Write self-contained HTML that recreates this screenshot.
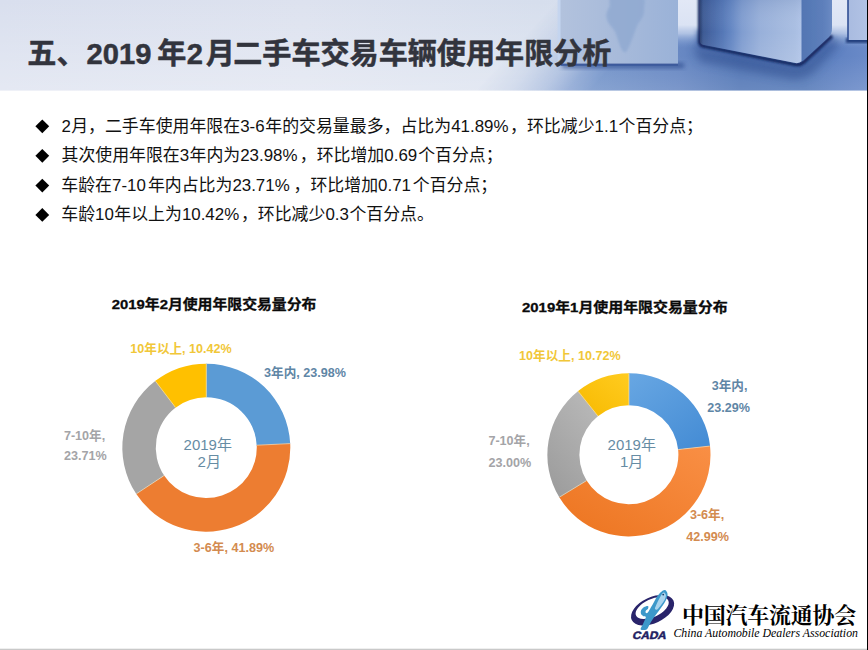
<!DOCTYPE html>
<html lang="zh"><head><meta charset="utf-8"><title>2019年2月二手车交易车辆使用年限分析</title>
<style>
html,body{margin:0;padding:0;background:#fff;}
body{width:868px;height:650px;overflow:hidden;position:relative;font-family:"Liberation Sans",sans-serif;}
#art{position:absolute;left:0;top:0;display:block;}
.t{position:absolute;white-space:nowrap;color:transparent;line-height:1;font-family:"Liberation Sans",sans-serif;}
#page{position:relative;width:868px;height:650px;overflow:hidden;background:#fff;}
</style></head><body>
<div id="page">
<svg id="art" width="868" height="650" viewBox="0 0 868 650">

<defs>
<linearGradient id="hb" x1="0" x2="868" gradientUnits="userSpaceOnUse"><stop offset="0" stop-color="#d9dfee"/><stop offset=".35" stop-color="#dde2ef"/><stop offset=".62" stop-color="#d6deed"/><stop offset="1" stop-color="#dfe8f7"/></linearGradient>
<linearGradient id="hv" x1="0" y1="0" x2="0" y2="90" gradientUnits="userSpaceOnUse"><stop offset="0" stop-color="#fff" stop-opacity="0"/><stop offset="1" stop-color="#fff" stop-opacity=".3"/></linearGradient>
<linearGradient id="flc" x1="520" x2="868" gradientUnits="userSpaceOnUse"><stop offset="0" stop-color="#8ea7d4"/><stop offset=".115" stop-color="#84a0d1"/><stop offset=".23" stop-color="#7595ca"/><stop offset=".46" stop-color="#6888c3"/><stop offset=".63" stop-color="#5377b6"/><stop offset=".82" stop-color="#5378b7"/><stop offset=".92" stop-color="#6183c3"/><stop offset="1" stop-color="#6a8ac8"/></linearGradient>
<linearGradient id="flv" x1="0" y1="56" x2="0" y2="91" gradientUnits="userSpaceOnUse"><stop offset="0" stop-color="#fff" stop-opacity="0"/><stop offset="1" stop-color="#fff" stop-opacity=".13"/></linearGradient>
<linearGradient id="flm" x1="508" y1="54.5" x2="570.9" y2="111.5" gradientUnits="userSpaceOnUse"><stop offset="0" stop-color="#fff" stop-opacity="0"/><stop offset=".3" stop-color="#fff" stop-opacity=".2"/><stop offset=".59" stop-color="#fff" stop-opacity=".52"/><stop offset=".8" stop-color="#fff" stop-opacity=".85"/><stop offset="1" stop-color="#fff" stop-opacity="1"/></linearGradient>
<linearGradient id="flr" x1="655" x2="700" gradientUnits="userSpaceOnUse"><stop offset="0" stop-color="#fff" stop-opacity="0"/><stop offset="1" stop-color="#fff" stop-opacity="1"/></linearGradient>
<mask id="fm" maskUnits="userSpaceOnUse" x="400" y="0" width="468" height="92"><rect x="400" y="0" width="468" height="92" fill="url(#flm)"/><rect x="655" y="0" width="213" height="92" fill="url(#flr)"/></mask>
<linearGradient id="c1" x1="561" x2="678" gradientUnits="userSpaceOnUse"><stop offset="0" stop-color="#b2c2dd"/><stop offset=".5" stop-color="#a7bada"/><stop offset="1" stop-color="#9ab2d8"/></linearGradient>
<linearGradient id="c2a" x1="700" x2="802" gradientUnits="userSpaceOnUse"><stop offset="0" stop-color="#2a4070"/><stop offset=".03" stop-color="#3d5a94"/><stop offset=".12" stop-color="#4868a6"/><stop offset=".22" stop-color="#5577b6"/><stop offset=".31" stop-color="#6688c4"/><stop offset=".41" stop-color="#809dd0"/><stop offset=".59" stop-color="#98b0da"/><stop offset=".78" stop-color="#a2b8de"/><stop offset=".93" stop-color="#a9bee2"/><stop offset="1" stop-color="#b0c4e8"/></linearGradient>
<linearGradient id="c2v" x1="0" y1="0" x2="0" y2="64" gradientUnits="userSpaceOnUse"><stop offset="0" stop-color="#35528c" stop-opacity=".12"/><stop offset=".5" stop-color="#fff" stop-opacity="0"/><stop offset="1" stop-color="#fff" stop-opacity=".1"/></linearGradient>
<linearGradient id="c2b" x1="802" x2="832" gradientUnits="userSpaceOnUse"><stop offset="0" stop-color="#5376b3"/><stop offset=".7" stop-color="#5d7fbb"/><stop offset="1" stop-color="#6a8ac3"/></linearGradient>
<linearGradient id="gap" x1="0" y1="0" x2="0" y2="48" gradientUnits="userSpaceOnUse"><stop offset="0" stop-color="#e2e8f6"/><stop offset=".52" stop-color="#dbe3f4"/><stop offset=".7" stop-color="#b7c8e7" stop-opacity=".9"/><stop offset=".87" stop-color="#8aa5d5" stop-opacity=".5"/><stop offset="1" stop-color="#7694cc" stop-opacity="0"/></linearGradient>
<linearGradient id="c3" x1="848" x2="868" gradientUnits="userSpaceOnUse"><stop offset="0" stop-color="#a9bbe0"/><stop offset="1" stop-color="#b2c3e5"/></linearGradient>
<filter id="b1" x="-20%" y="-20%" width="140%" height="140%"><feGaussianBlur stdDeviation="1"/></filter>
<filter id="b2" x="-20%" y="-50%" width="140%" height="200%"><feGaussianBlur stdDeviation="2.2"/></filter>
<filter id="b4" x="-20%" y="-50%" width="140%" height="200%"><feGaussianBlur stdDeviation="4"/></filter>
<filter id="b05" x="-5%" y="-5%" width="110%" height="110%"><feGaussianBlur stdDeviation=".6"/></filter>
<clipPath id="hc"><rect x="0" y="0" width="868" height="90.4"/></clipPath>
</defs>
<g clip-path="url(#hc)">
<rect width="868" height="91" fill="url(#hb)"/>
<rect width="868" height="91" fill="url(#hv)"/>
<g mask="url(#fm)"><rect x="400" y="0" width="468" height="92" fill="url(#flc)"/><rect x="400" y="56" width="468" height="36" fill="url(#flv)"/></g>
<rect x="672" y="0" width="196" height="48" fill="url(#gap)"/>
<!-- cube1 shadow + body -->
<rect x="562" y="63" width="122" height="5" fill="#2e4c8e" filter="url(#b2)" opacity=".7"/>
<rect x="560" y="-2" width="118" height="67" fill="url(#c1)" filter="url(#b05)"/>
<path d="M612.6 -4.1C617.9 -5.9 636.4 -6.2 641.6 -4.1C646.9 -2.1 643.9 4.8 644.1 8.3C644.3 11.8 643.8 13.8 642.7 16.6C641.5 19.4 638.9 22.1 637.5 24.9C636.1 27.7 635.4 30.4 634.4 33.2C633.3 35.9 632.6 38.4 631.2 41.5C629.9 44.6 627.6 50.5 626.1 51.8C624.5 53.2 623.3 51.8 621.9 49.8C620.5 47.7 619 42.5 617.8 39.4C616.6 36.3 616.2 33.9 614.7 31.1C613.1 28.3 609.8 25.6 608.4 22.8C607.1 20 606.2 17.3 606.4 14.5C606.5 11.8 608.4 9.3 609.5 6.2C610.5 3.1 607.2 -2.4 612.6 -4.1Z" fill="#8ea8d0" opacity=".75" filter="url(#b1)"/>
<rect x="557.6" y="0" width="3" height="64" fill="#c4d5f0" opacity=".9" filter="url(#b05)"/>
<rect x="561" y="63.6" width="117" height="2.2" fill="#3c5a9c" filter="url(#b05)"/>
<!-- cube2 -->
<path d="M698 40 L700 47 L796 66 L806 63 L834 36 L840 44 L812 74 L796 80 L700 62 L694 50 Z" fill="#2d4c8c" opacity=".5" filter="url(#b4)"/>
<path d="M699.5 30 L699.5 42 Q700 45.5 704 46.3 L794 64.3 Q800 65.5 804 62 L832 36" fill="none" stroke="#3a5a9c" stroke-width="7" filter="url(#b2)" opacity=".55"/>
<path d="M699.5 -3 L699.5 42 Q700 45.5 704 46.3 L794 64.3 Q800 65.5 804 62 L832 36" fill="none" stroke="#13285f" stroke-width="3.2" filter="url(#b1)"/>
<path d="M700 -2 L700 41 Q700 44 703 44.8 L794 62.8 Q799 64 802 61 L802 -2 Z" fill="url(#c2a)" filter="url(#b05)"/>
<path d="M700 -2 L700 41 Q700 44 703 44.8 L794 62.8 Q799 64 802 61 L802 -2 Z" fill="url(#c2v)"/>
<path d="M801.5 -2 L801.5 61.5 Q803 61 805 59 L829 37 Q832 34 832 28 L832 -2 Z" fill="url(#c2b)" filter="url(#b05)"/>
<!-- cube3 -->
<rect x="846" y="38" width="24" height="5" fill="#23407f" filter="url(#b1)"/>
<rect x="848" y="-2" width="22" height="42" fill="url(#c3)"/>
<rect x="847.2" y="-2" width="1.6" height="42" fill="#2f4f94" filter="url(#b05)"/>
</g>

<text y="64.4" font-family="'Liberation Sans','Noto Sans CJK SC',sans-serif" font-size="29.1" font-weight="bold" fill="#32343d" stroke="#32343d" stroke-width="0.5" stroke-linejoin="round"><tspan x="27.3">五、</tspan><tspan x="86.6">2019</tspan><tspan x="157.2">年</tspan><tspan x="186.8">2</tspan><tspan x="205.7">月</tspan><tspan x="233.2">二手车交易车辆使用年限分析</tspan></text>
<text y="131.8" font-family="'Liberation Sans','Noto Sans CJK SC',sans-serif" font-size="16.9" fill="#111"><tspan x="61.6">2</tspan><tspan x="71.2">月，二手车使用年限在</tspan><tspan x="240.2">3-6</tspan><tspan x="265.3">年的交易量最多，占比为</tspan><tspan x="451.2">41.89%</tspan><tspan x="510.1">，环比减少</tspan><tspan x="594.6">1.1</tspan><tspan x="618.5">个百分点；</tspan></text>
<path d="M42.3 119.4 l6.9 6.9 l-6.9 6.9 l-6.9 -6.9 Z" fill="#000"/>
<text y="161.3" font-family="'Liberation Sans','Noto Sans CJK SC',sans-serif" font-size="16.9" fill="#111"><tspan x="61.5">其次使用年限在</tspan><tspan x="179.8">3</tspan><tspan x="189.5">年内为</tspan><tspan x="240.2">23.98%</tspan><tspan x="299.8">，环比增加</tspan><tspan x="384.3">0.69</tspan><tspan x="418.2">个百分点；</tspan></text>
<path d="M42.3 148.9 l6.9 6.9 l-6.9 6.9 l-6.9 -6.9 Z" fill="#000"/>
<text y="191.1" font-family="'Liberation Sans','Noto Sans CJK SC',sans-serif" font-size="16.9" fill="#111"><tspan x="61.3">车龄在</tspan><tspan x="112">7-10</tspan><tspan x="147.9">年内占比为</tspan><tspan x="232.4">23.71%</tspan><tspan x="293.6">，环比增加</tspan><tspan x="378.1">0.71</tspan><tspan x="412.8">个百分点；</tspan></text>
<path d="M42.3 178.7 l6.9 6.9 l-6.9 6.9 l-6.9 -6.9 Z" fill="#000"/>
<text y="220.4" font-family="'Liberation Sans','Noto Sans CJK SC',sans-serif" font-size="16.9" fill="#111"><tspan x="61.3">车龄</tspan><tspan x="95.1">10</tspan><tspan x="114.3">年以上为</tspan><tspan x="181.9">10.42%</tspan><tspan x="240.9">，环比减少</tspan><tspan x="325.4">0.3</tspan><tspan x="349.4">个百分点。</tspan></text>
<path d="M42.3 208 l6.9 6.9 l-6.9 6.9 l-6.9 -6.9 Z" fill="#000"/>
<path d="M206.1 363.7 A84 84 0 0 1 290.2 443.8 L256.7 445.4 A50.5 50.5 0 0 0 206.2 397.2 Z" fill="#5b9bd5"/><path d="M290.2 443.4 A84 84 0 0 1 136.1 493.8 L164.1 475.4 A50.5 50.5 0 0 0 256.7 445.1 Z" fill="#ed7d31"/><path d="M136.3 494.1 A84 84 0 0 1 155.5 380.8 L175.7 407.5 A50.5 50.5 0 0 0 164.2 475.6 Z" fill="#a5a5a5"/><path d="M155.1 381.1 A84 84 0 0 1 206.5 363.7 L206.4 397.2 A50.5 50.5 0 0 0 175.5 407.7 Z" fill="#ffc000"/><path d="M206.3 396.9 L206.3 364M257 445.2 L289.9 443.6M163.9 475.7 L136.4 493.8M175.4 407.3 L155.5 381.2" stroke="#f2e2c0" stroke-width="0.8" fill="none" opacity=".8"/>
<defs>
<linearGradient id="g2b" x1="0" y1="0" x2="0.8" y2="1"><stop offset="0" stop-color="#68a7e3"/><stop offset="1" stop-color="#468dd5"/></linearGradient>
<linearGradient id="g2o" x1="0" y1="1" x2="1" y2="0"><stop offset="0" stop-color="#ec741f"/><stop offset="1" stop-color="#f98f45"/></linearGradient>
<linearGradient id="g2g" x1="0" y1="1" x2="0.6" y2="0"><stop offset="0" stop-color="#9a9a9a"/><stop offset="1" stop-color="#b6b6b6"/></linearGradient>
<linearGradient id="g2y" x1="0" y1="1" x2="1" y2="0"><stop offset="0" stop-color="#f7b900"/><stop offset="1" stop-color="#ffcc20"/></linearGradient>
</defs>
<path d="M628.7 373.2 A81.6 81.6 0 0 1 710.1 446.3 L678.1 449.6 A49.5 49.5 0 0 0 628.8 405.3 Z" fill="url(#g2b)"/><path d="M710 445.8 A81.6 81.6 0 0 1 559.1 497.1 L586.6 480.5 A49.5 49.5 0 0 0 678.1 449.4 Z" fill="url(#g2o)"/><path d="M559.4 497.5 A81.6 81.6 0 0 1 578.2 390.9 L598.1 416 A49.5 49.5 0 0 0 586.7 480.7 Z" fill="url(#g2g)"/><path d="M577.8 391.2 A81.6 81.6 0 0 1 629.1 373.2 L629 405.3 A49.5 49.5 0 0 0 597.9 416.2 Z" fill="url(#g2y)"/><path d="M628.9 405 L628.9 373.5M678.4 449.5 L709.7 446.1M586.4 480.7 L559.5 497.1M597.8 415.9 L578.2 391.3" stroke="#f2e2c0" stroke-width="0.8" fill="none" opacity=".8"/>
<text x="111.8" y="308.7" font-family="'Liberation Sans','Noto Sans CJK SC',sans-serif" font-size="13.4" font-weight="bold" fill="#0a0a0a" stroke="#0a0a0a" stroke-width="0.3" textLength="204.6" lengthAdjust="spacingAndGlyphs">2019年2月使用年限交易量分布</text>
<text x="522" y="311.9" font-family="'Liberation Sans','Noto Sans CJK SC',sans-serif" font-size="13.4" font-weight="bold" fill="#0a0a0a" stroke="#0a0a0a" stroke-width="0.3" textLength="205.6" lengthAdjust="spacingAndGlyphs">2019年1月使用年限交易量分布</text>
<g font-family="'Liberation Sans','Noto Sans CJK SC',sans-serif" font-size="12.6" font-weight="bold">
<text x="130.3" y="352.6" fill="#f1c738">10年以上, 10.42%</text>
<text x="264.1" y="377.1" fill="#5f86a6">3年内, 23.98%</text>
<text x="63.9" y="439.6" fill="#a4a4a7">7-10年,</text>
<text x="64.1" y="459.7" fill="#a4a4a7">23.71%</text>
<text x="193.6" y="551.6" fill="#d38b50">3-6年, 41.89%</text>
</g>
<g font-family="'Liberation Sans','Noto Sans CJK SC',sans-serif" font-size="15" fill="#668ca4">
<text x="183.6" y="450.4">2019年</text>
<text x="197.6" y="467.3">2月</text>
</g>
<g font-family="'Liberation Sans','Noto Sans CJK SC',sans-serif" font-size="12.6" font-weight="bold">
<text x="519.1" y="359.7" fill="#f1c738">10年以上, 10.72%</text>
<text x="711.7" y="389.7" fill="#5f86a6">3年内,</text>
<text x="707.2" y="411.9" fill="#5f86a6">23.29%</text>
<text x="488.4" y="445.4" fill="#a4a4a7">7-10年,</text>
<text x="488.6" y="466.8" fill="#a4a4a7">23.00%</text>
<text x="689.9" y="519" fill="#d38b50">3-6年,</text>
<text x="686.3" y="540.9" fill="#d38b50">42.99%</text>
</g>
<g font-family="'Liberation Sans','Noto Sans CJK SC',sans-serif" font-size="15" fill="#668ca4">
<text x="607.6" y="450.3">2019年</text>
<text x="620" y="467.3">1月</text>
</g>
<g transform="translate(652.6 610.2) rotate(-25)"><path d="M-23 0 A23 13 0 1 0 23 0 A23 13 0 1 0 -23 0 Z M-17.3 -2.1 A17.8 8.9 0 1 1 18.3 -2.1 A17.8 8.9 0 1 1 -17.3 -2.1 Z" fill="#29246a" fill-rule="evenodd"/></g>
<path d="M665.1 590.1C666.1 590.5 667.3 592.3 667.5 593.8C667.7 595.2 667.2 597.1 666.4 598.9C665.7 600.8 664.4 602.8 663.2 604.8C661.9 606.7 660.3 608.7 658.9 610.7C657.4 612.6 655.8 614.8 654.6 616.6C653.3 618.5 652.1 620.2 651.1 621.8C650.1 623.4 649.4 625.1 648.7 626.3C647.9 627.6 647.9 628.9 646.6 629.4C645.3 630 641.4 630.3 640.8 629.4C640.1 628.6 642.1 626 642.8 624.4C643.5 622.8 644.4 621 644.9 619.8C645.4 618.5 646 617.4 645.8 616.9C645.5 616.3 644.3 616.8 643.5 616.3C642.7 615.9 641.5 615.1 641.1 614.1C640.7 613.1 640.6 611.5 641.1 610.3C641.6 609.2 642.7 607.9 643.9 607.2C645 606.5 647.3 605.7 648 606C648.7 606.3 648.4 608 648 608.8C647.6 609.5 646.2 610 645.8 610.7C645.4 611.3 645.4 612.1 645.6 612.6C645.8 613 646.6 613.3 647.1 613.1C647.7 612.8 648 612.2 648.7 611.2C649.4 610.2 650.2 608.6 651.1 607C652 605.5 653 603.7 654 601.9C655.1 600.1 656.1 597.8 657.3 596.2C658.5 594.5 659.8 592.9 661.1 591.9C662.4 590.9 664 589.8 665.1 590.1Z" fill="#3c98ca"/>
<path d="M664 592.6C664.7 592.8 665.8 594.1 665.9 595.3C666 596.5 665.4 598.4 664.6 600C663.7 601.6 662.3 603.4 661.1 605C659.9 606.5 658.3 608.8 657.3 609.4C656.3 610.1 654.9 609.7 654.9 608.6C654.9 607.5 656.3 604.8 657.1 602.9C658 601 659.1 598.9 659.9 597.4C660.7 595.9 661.3 594.7 662 593.9C662.7 593.1 663.4 592.3 664 592.6Z" fill="#a9d4ee"/>
<circle cx="663.2" cy="594.6" r="0.9" fill="#1c3a66"/>
<g transform="translate(633.6 634.8) skewX(-14)"><text x="-0.7" y="3.9" font-family="'Liberation Sans',sans-serif" font-size="10.8" font-weight="bold" fill="#221d62" stroke="#221d62" stroke-width="0.5" stroke-linejoin="round" textLength="33.9" lengthAdjust="spacingAndGlyphs">CADA</text></g>
<text x="682.1" y="623.3" font-family="'Liberation Serif','Noto Serif CJK SC',serif" font-size="22" font-weight="bold" fill="#000" textLength="174.2" lengthAdjust="spacing">中国汽车流通协会</text>
<text x="673.4" y="636.9" font-family="'Liberation Serif',serif" font-size="13" font-style="italic" fill="#000" textLength="184.6" lengthAdjust="spacingAndGlyphs">China Automobile Dealers Association</text>
<rect x="867" y="0" width="1" height="650" fill="#000"/><rect x="0" y="648.7" width="867" height="1.3" fill="#c9c9c9"/>
</svg>
<h1 class="t" style="left:28px;top:38.4px;font-size:29px;margin:0">五、2019年2月二手车交易车辆使用年限分析</h1>
<p class="t" style="left:62px;top:116.8px;font-size:17px;margin:0">2月，二手车使用年限在3-6年的交易量最多，占比为41.89%，环比减少1.1个百分点；</p>
<div class="t" style="left:36px;top:117.3px;font-size:14px">◆</div>
<p class="t" style="left:62px;top:146.3px;font-size:17px;margin:0">其次使用年限在3年内为23.98%，环比增加0.69个百分点；</p>
<div class="t" style="left:36px;top:146.8px;font-size:14px">◆</div>
<p class="t" style="left:62px;top:176.1px;font-size:17px;margin:0">车龄在7-10年内占比为23.71%，环比增加0.71个百分点；</p>
<div class="t" style="left:36px;top:176.6px;font-size:14px">◆</div>
<p class="t" style="left:62px;top:205.4px;font-size:17px;margin:0">车龄10年以上为10.42%，环比减少0.3个百分点。</p>
<div class="t" style="left:36px;top:205.9px;font-size:14px">◆</div>
<div class="t" style="left:111.8px;top:296.7px;font-size:13.4px;font-weight:bold;">2019年2月使用年限交易量分布</div>
<div class="t" style="left:522px;top:299.9px;font-size:13.4px;font-weight:bold;">2019年1月使用年限交易量分布</div>
<div class="t" style="left:130.3px;top:341.3px;font-size:12.6px;font-weight:bold;">10年以上, 10.42%</div>
<div class="t" style="left:264.1px;top:365.8px;font-size:12.6px;font-weight:bold;">3年内, 23.98%</div>
<div class="t" style="left:63.9px;top:428.3px;font-size:12.6px;font-weight:bold;">7-10年,</div>
<div class="t" style="left:64.1px;top:448.3px;font-size:12.6px;font-weight:bold;">23.71%</div>
<div class="t" style="left:193.6px;top:540.3px;font-size:12.6px;font-weight:bold;">3-6年, 41.89%</div>
<div class="t" style="left:183.6px;top:436.9px;font-size:15px;">2019年</div>
<div class="t" style="left:197.6px;top:453.8px;font-size:15px;">2月</div>
<div class="t" style="left:519.1px;top:348.4px;font-size:12.6px;font-weight:bold;">10年以上, 10.72%</div>
<div class="t" style="left:711.7px;top:378.4px;font-size:12.6px;font-weight:bold;">3年内,</div>
<div class="t" style="left:707.2px;top:400.5px;font-size:12.6px;font-weight:bold;">23.29%</div>
<div class="t" style="left:488.4px;top:434.1px;font-size:12.6px;font-weight:bold;">7-10年,</div>
<div class="t" style="left:488.6px;top:455.4px;font-size:12.6px;font-weight:bold;">23.00%</div>
<div class="t" style="left:689.9px;top:507.7px;font-size:12.6px;font-weight:bold;">3-6年,</div>
<div class="t" style="left:686.3px;top:529.5px;font-size:12.6px;font-weight:bold;">42.99%</div>
<div class="t" style="left:607.6px;top:436.8px;font-size:15px;">2019年</div>
<div class="t" style="left:620px;top:453.8px;font-size:15px;">1月</div>
<div class="t" style="left:633px;top:629px;font-size:11px;font-weight:bold;font-style:italic">CADA</div>
<div class="t" style="left:682.1px;top:600.8px;font-size:25px;">中国汽车流通协会</div>
<div class="t" style="left:673.4px;top:624.3px;font-size:14px;">China Automobile Dealers Association</div>
</div>
</body></html>
